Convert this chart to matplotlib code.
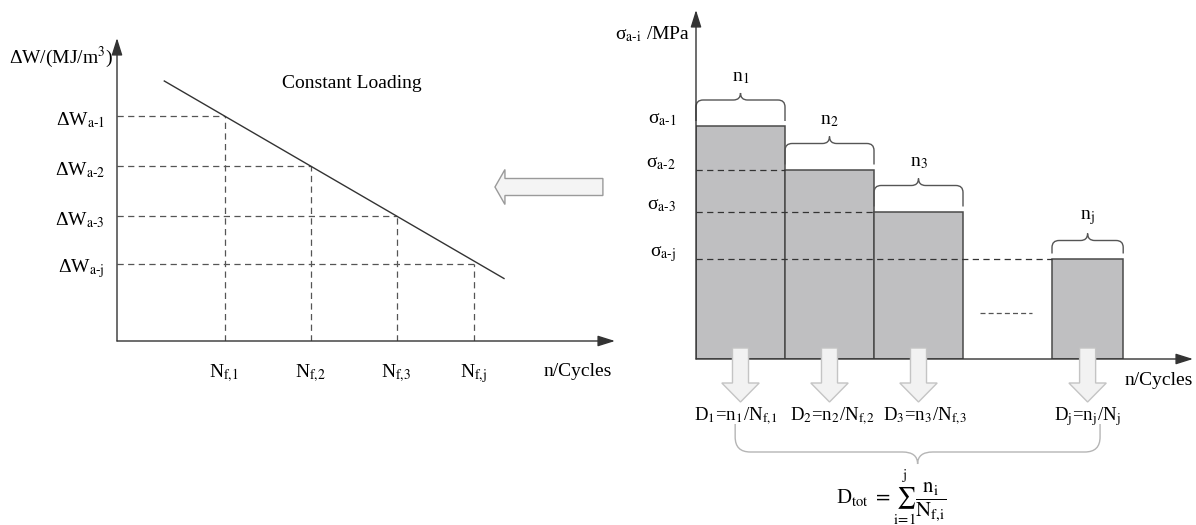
import numpy as np
import matplotlib
matplotlib.use("Agg")
from matplotlib import pyplot as plt
from matplotlib.path import Path
import matplotlib.patches as mpatches

plt.rcParams["font.family"] = ["Liberation Serif", "DejaVu Serif"]
plt.rcParams["mathtext.fontset"] = "stix"

# ---- left panel: constant loading line ----
nf_x = [1.25, 2.25, 3.25, 4.15]          # N_f,i positions
dw_y = [4.5, 3.5, 2.5, 1.55]             # Delta W_a-i levels
curve_x = [0.55, 4.5]
curve_y = [5.2, 1.25]
level_ids = ["1", "2", "3", "j"]
nf_ids = ["1", "2", "3", "j"]

# ---- right panel: block loading ----
block_left = [0, 1, 2, 4]
block_width = [1, 1, 1, 0.8]
block_sigma = [4.65, 3.78, 2.94, 2.0]
block_ids = ["1", "2", "3", "j"]
damage_labels = [
    r"D$_1$=n$_1$/N$_{\mathrm{f,\!1}}$",
    r"D$_2$=n$_2$/N$_{\mathrm{f,\!2}}$",
    r"D$_3$=n$_3$/N$_{\mathrm{f,\!3}}$",
    r"D$_{\mathrm{j}}$=n$_{\mathrm{j}}$/N$_{\mathrm{j}}$",
]

W, H = 1196, 525
fig = plt.figure(figsize=(W / 100, H / 100), dpi=100)


def px_axes(x0, y0, x1, y1):
    # origin (x0, y0) and far corner (x1, y1) in pixels from the top left
    return fig.add_axes([x0 / W, 1 - y0 / H, (x1 - x0) / W, (y0 - y1) / H])


def axis_arrow(ax, x, y):
    ax.annotate("", xy=(x, y), xytext=(0, 0), annotation_clip=False,
                arrowprops=dict(arrowstyle="-|>,head_length=0.7,head_width=0.22",
                                color="#333333", lw=1.0, mutation_scale=15,
                                shrinkA=0, shrinkB=0))


def draw_brace(ax, x0, x1, y0, h, tip, rx, ry, **kw):
    s = np.sign(h)
    xm = (x0 + x1) / 2
    yt = y0 + h
    verts = [(x0, y0), (x0, yt - s * ry), (x0, yt), (x0 + rx, yt),
             (xm - rx, yt), (xm, yt), (xm, yt + tip),
             (xm, yt), (xm + rx, yt), (x1 - rx, yt),
             (x1, yt), (x1, yt - s * ry), (x1, y0)]
    codes = [Path.MOVETO, Path.LINETO, Path.CURVE3, Path.CURVE3,
             Path.LINETO, Path.CURVE3, Path.CURVE3,
             Path.CURVE3, Path.CURVE3, Path.LINETO,
             Path.CURVE3, Path.CURVE3, Path.LINETO]
    ax.add_patch(mpatches.PathPatch(Path(verts, codes), fill=False,
                                    clip_on=False, **kw))


dash = (0, (5, 3.5))
fs = 14

# ================= left panel =================
axL = px_axes(117, 341, 615, 38)
axL.set_xlim(0, 498 / 86)
axL.set_ylim(0, 303 / 50)
axL.axis("off")

axis_arrow(axL, 498 / 86, 0)
axis_arrow(axL, 0, 303 / 50)

for x, y in zip(nf_x, dw_y):
    axL.plot([0, x], [y, y], color="#555555", lw=0.9, ls=dash)
    axL.plot([x, x], [0, y], color="#555555", lw=0.9, ls=dash)

axL.plot(curve_x, curve_y, color="#333333", lw=1.0)

for y, k in zip(dw_y, level_ids):
    axL.text(-0.14, y - 0.18, r"ΔW$_{\mathrm{a}\text{-}\mathrm{%s}}$" % k,
             ha="right", va="baseline", fontsize=fs)
for x, k in zip(nf_x, nf_ids):
    axL.text(x, -0.72, r"N$_{\mathrm{f,\!%s}}$" % k,
             ha="center", va="baseline", fontsize=fs)

axL.text(-0.05, 5.56, r"ΔW/(MJ/m$^{3}$)", ha="right", va="baseline", fontsize=fs)
axL.text(5.36, -0.70, "n/Cycles", ha="center", va="baseline", fontsize=fs)
axL.text(1.92, 5.06, "Constant Loading", ha="left", va="baseline", fontsize=fs)

# hollow arrow pointing from right panel to left panel
axL.add_patch(mpatches.FancyArrow(5.65, 3.08, -1.255, 0, width=0.34,
                                  head_width=0.7, head_length=0.116,
                                  length_includes_head=True, fc="#f4f4f4",
                                  ec="#9a9a9a", lw=1.0, clip_on=False))

# ================= right panel =================
axR = px_axes(696, 359, 1193, 10)
axR.set_xlim(0, 497 / 89)
axR.set_ylim(0, 349 / 50)
axR.axis("off")

axR.bar(block_left, block_sigma, width=block_width, align="edge",
        color="#bfbfc1", edgecolor="#4a4a4a", lw=1.1, zorder=1)

for i in range(1, len(block_sigma)):
    axR.plot([0, block_left[i]], [block_sigma[i], block_sigma[i]],
             color="#333333", lw=0.9, ls=dash, zorder=2)

axis_arrow(axR, 497 / 89, 0)
axis_arrow(axR, 0, 349 / 50)

# short dashes marking omitted blocks
axR.plot([3.19, 3.78], [0.92, 0.92], color="#555555", lw=0.9, ls=(0, (4, 2.5)))

label_shift = [-0.06, 0.03, 0.07, 0.0]   # small nudges so labels do not touch
for i, (x0, w, s, k) in enumerate(zip(block_left, block_width, block_sigma, block_ids)):
    h = 0.42 if k != "j" else 0.26
    draw_brace(axR, x0, x0 + w, s + 0.11, h, 0.14, 0.08, 0.14,
               color="#555555", lw=1.0)
    axR.text(x0 + w / 2, s + 0.11 + h + 0.14 + 0.32, r"n$_{\mathrm{%s}}$" % k,
             ha="center", va="center", fontsize=fs)
    axR.text(-0.22, s + 0.06, r"σ$_{\mathrm{a}\text{-}\mathrm{%s}}$" % k,
             ha="right", va="baseline", fontsize=fs)
    xc = x0 + w / 2
    axR.add_patch(mpatches.FancyArrow(xc, 0.22, 0, -1.08, width=0.18,
                                      head_width=0.42, head_length=0.38,
                                      length_includes_head=True, fc="#f2f2f2",
                                      ec="#c4c4c4", lw=1.0, zorder=3,
                                      clip_on=False))
    axR.text(xc + label_shift[i], -1.22, damage_labels[i], ha="center",
             va="baseline", fontsize=13.5)

axR.text(-0.07, 6.4, r"σ$_{\mathrm{a}\text{-}\mathrm{i}}$ /MPa",
         ha="right", va="baseline", fontsize=fs)
axR.text(5.2, -0.52, "n/Cycles", ha="center", va="baseline", fontsize=fs)

draw_brace(axR, 0.44, 4.54, -1.3, -0.56, -0.24, 0.17, 0.3,
           color="#b5b5b5", lw=1.0)
axR.text(2.2, -2.76,
         r"D$_{\mathrm{tot}}$ $= \sum_{\mathrm{i\!=\!1}}^{\mathrm{j}}\dfrac{\mathrm{n_i}}{\mathrm{N_{f,\!i}}}$",
         ha="center", va="center", fontsize=15)

fig.savefig("out.png", dpi=100)
